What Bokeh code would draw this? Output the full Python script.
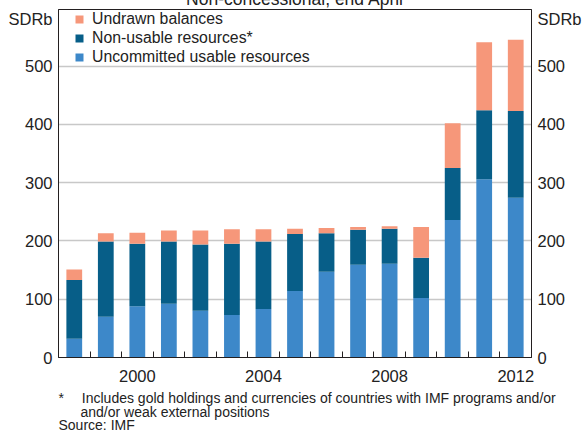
from bokeh.plotting import figure
from bokeh.models import (Range1d, FixedTicker, LinearAxis, Legend, LegendItem,
                          Title, ColumnDataSource)
from bokeh.embed import file_html
from bokeh.resources import INLINE

# ---- data (SDR billions, end April) ----
years = [1998, 1999, 2000, 2001, 2002, 2003, 2004, 2005, 2006, 2007, 2008, 2009, 2010, 2011, 2012]
uncommitted = [32, 70, 88, 92, 80, 73, 83, 114, 147, 159, 161, 102, 236, 306, 274]
non_usable = [101, 129, 107, 107, 114, 122, 116, 98, 66, 60, 60, 69, 89, 118, 149]
undrawn = [18, 14, 19, 19, 24, 25, 21, 9, 9, 5, 4, 53, 77, 117, 122]
y_ticks = [0, 100, 200, 300, 400, 500]
x_tick_years = [2000, 2004, 2008, 2012]
unit_label = "SDRb"
unit_label_at = 580

series_names = ["Uncommitted usable resources", "Non-usable resources*", "Undrawn balances"]
series_keys = ["uncommitted", "non_usable", "undrawn"]
colors = ["#3d88c9", "#075e88", "#f6977a"]

title_text = "Non-concessional, end April"
note_lines = ["*\u2003\u00a0Includes gold holdings and currencies of countries with IMF programs and/or",
              "and/or weak external positions",
              "Source: IMF"]

FONT = "Liberation Sans"
AX = "#231f20"
TXT = "#222222"

source = ColumnDataSource(dict(years=years, uncommitted=uncommitted,
                               non_usable=non_usable, undrawn=undrawn))

p = figure(width=584, height=436, x_range=Range1d(1997.5, 2012.5), y_range=Range1d(0, 597),
           output_backend="svg", toolbar_location=None,
           min_border_left=58, min_border_right=53, min_border_top=9, min_border_bottom=79)

renderers = p.vbar_stack(series_keys, x="years", width=0.5, source=source,
                         color=colors, line_color=None)

# title, mostly cut off by the top edge as in the original
p.title.text = title_text + "\n"
p.title.align = "center"
p.title.vertical_align = "bottom"
p.title.text_font = FONT
p.title.text_font_size = "17.5px"
p.title.text_font_style = "normal"
p.title.text_color = TXT
p.title.text_line_height = 0.71
p.title.standoff = -27

# frame / grid
p.outline_line_color = AX
p.outline_line_width = 1
p.xgrid.visible = False
p.ygrid.ticker = FixedTicker(ticks=y_ticks[1:])
p.ygrid.grid_line_color = "#c8c8c8"
p.ygrid.grid_line_width = 1.3

# x axis
xa = p.xaxis[0]
xa.ticker = FixedTicker(ticks=x_tick_years, minor_ticks=[y + 0.5 for y in years[:-1]])
xa.major_tick_in = 0
xa.major_tick_out = 0
xa.minor_tick_in = 6
xa.minor_tick_out = 0
xa.minor_tick_line_color = AX
xa.axis_line_color = AX
xa.major_label_standoff = 12
xa.major_label_text_font = FONT
xa.major_label_text_font_size = "16.5px"
xa.major_label_text_color = TXT

# y axes (left + right), unit label drawn as a top tick label
def style_y(ax):
    ax.ticker = FixedTicker(ticks=y_ticks + [unit_label_at])
    ax.major_label_overrides = {unit_label_at: unit_label}
    ax.major_tick_in = 0
    ax.major_tick_out = 0
    ax.minor_tick_line_color = None
    ax.axis_line_color = AX
    ax.major_label_standoff = 6
    ax.major_label_text_font = FONT
    ax.major_label_text_font_size = "16.5px"
    ax.major_label_text_color = TXT

style_y(p.yaxis[0])
ra = LinearAxis()
style_y(ra)
p.add_layout(ra, "right")

# legend (top entry first)
items = [LegendItem(label=series_names[i], renderers=[renderers[i]]) for i in (2, 1, 0)]
legend = Legend(items=items, location=(16, 291), padding=0, margin=0, spacing=0,
                glyph_width=10, glyph_height=10, label_standoff=8, label_height=19,
                label_text_font=FONT, label_text_font_size="15.8px",
                label_text_color=TXT, background_fill_alpha=0,
                border_line_color=None)
p.add_layout(legend, "center")

# footnotes below the x axis
note_standoffs = [6, -14, 4]
for i, t in enumerate(note_lines):
    p.add_layout(Title(text=t, align="left", offset=(22 if i == 1 else 0),
                       text_font=FONT, text_font_size="14px", text_font_style="normal",
                       text_color=TXT, standoff=note_standoffs[i]), "below")

open("out.html", "w").write(file_html(p, INLINE))
